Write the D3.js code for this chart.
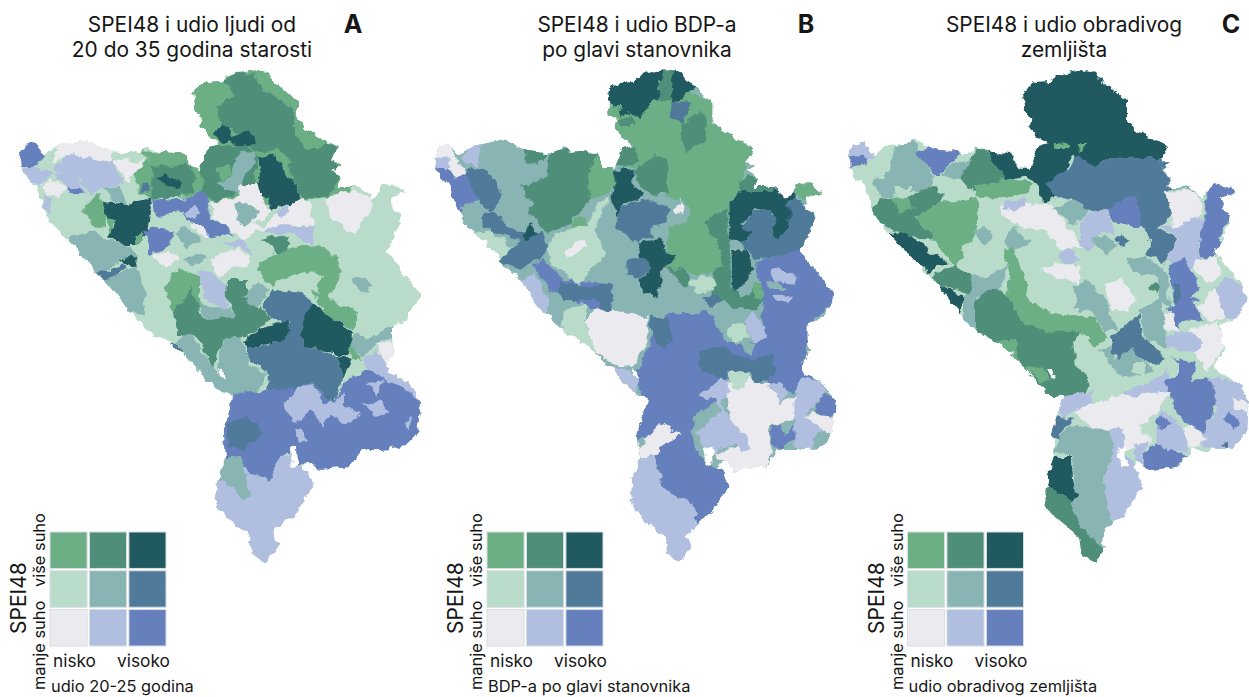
<!DOCTYPE html>
<html><head><meta charset="utf-8">
<script src="https://cdn.jsdelivr.net/npm/d3@7/dist/d3.min.js"></script>
<style>html,body{margin:0;background:#fff}svg{display:block}text{font-family:Inter,"Noto Sans",sans-serif;fill:#161616}</style>
</head><body><svg id="c" width="1249" height="697"></svg>
<script>
// bivariate classes: index = row*3+col, row 0 = manje suho, col 0 = nisko
const classColors=["#ebebef","#b0bfe0","#6580bd","#b8dcc9","#88b4b4","#4f7a9a","#6caf84","#4f8f79","#205a60"];
const titles=[["SPEI48 i udio ljudi od","20 do 35 godina starosti"],["SPEI48 i udio BDP-a","po glavi stanovnika"],["SPEI48 i udio obradivog","zemljišta"]];
const panelLetters=["A","B","C"];
const xLabels=["udio 20-25 godina","BDP-a po glavi stanovnika","udio obradivog zemljišta"];
const lowHigh=["nisko","visoko"];
const yLabels=["manje suho","više suho"];
const yTitle="SPEI48";
// map geometry in map units
const outline=[237,72,250,70,267,73,275,85,283,88,298,102,298,120,307,130,320,138,338,147,332,160,341,165,332,170,342,178,338,187,360,187,373,198,385,183,397,185,407,193,392,198,393,210,402,215,397,227,392,240,385,252,397,265,410,280,420,298,407,318,392,325,392,340,397,350,387,362,390,375,410,382,420,403,418,433,405,447,383,450,363,450,350,467,320,470,308,460,303,468,308,470,313,487,297,513,278,527,273,537,278,547,265,562,253,555,250,537,233,522,218,510,215,497,218,483,222,468,225,457,223,433,228,417,233,397,222,393,208,383,200,370,170,343,150,333,128,310,107,282,95,270,68,240,50,223,43,208,37,187,22,173,21,150,33,142,45,155,60,145,87,140,110,150,140,153,147,148,163,152,183,153,190,167,200,170,207,148,220,145,210,138,200,127,203,118,195,113,192,92,205,83,220,82,227,75];
const lakes=[[290,448,297,447,298,465,292,467],[218,368,223,370,225,379,220,375]];
const baseClass=[3,4,3];
const regionsA=[
[6,185,60,290,60,360,150,350,195,300,200,240,205,205,200,185,170,190,100],
[7,223,80,235,72,255,73,262,90,275,97,295,110,295,135,310,150,335,150,338,180,330,195,322,195,300,180,290,160,280,150,255,152,235,130,220,125,218,105,235,95],
[7,288,165,300,158,317,160,327,167,332,183,327,197,303,197,293,183],
[7,315,153,325,142,338,148,330,163,318,163],
[8,212,135,220,125,230,127,232,137,250,130,258,145,240,147,230,140,223,143],
[7,200,170,207,148,223,145,247,145,257,158,253,183,255,190,240,183,233,195,217,202,197,190],
[6,217,168,230,165,232,175,222,180],
[4,240,153,255,152,250,170,243,180,237,195,217,183,230,177],
[8,258,158,273,153,283,167,292,183,300,193,297,207,280,205,272,213,268,198,255,190,262,173],
[6,133,173,142,150,160,152,183,153,190,167,197,170,203,183,197,197,177,198,150,198,140,193],
[7,153,167,187,165,197,177,195,193,177,198,152,197,150,183],
[8,155,177,163,175,180,180,178,188,167,187],
[5,140,185,148,182,150,192,143,194],
[2,15,147,35,138,45,155,37,167,20,167],
[0,53,163,60,140,87,135,113,147,113,162,87,160,67,155],
[3,110,145,133,148,150,158,137,170,123,162],
[0,113,163,123,158,137,162,147,158,137,172,127,182],
[1,63,158,73,153,93,160,113,163,123,183,103,187,90,195,82,180,70,172,53,170],
[1,15,172,30,167,53,172,40,185,33,183,15,177],
[0,40,185,52,178,65,188,60,198,47,195],
[1,43,195,52,198,50,212,42,210],
[1,53,172,72,170,82,183,87,197,65,187],
[2,65,187,80,187,83,195,70,193],
[6,82,210,97,193,103,203,105,227,97,228],
[4,103,187,120,185,127,205,112,202],
[8,102,203,127,205,152,198,150,222,140,245,123,245,108,235,117,223,105,217],
[6,105,217,117,220,110,233],
[6,132,235,142,232,143,242,137,245],
[4,68,237,90,232,110,240,132,247,135,257,120,260,110,270,90,272],
[5,90,270,110,272,122,263,127,267,113,278,103,282],
[8,118,260,135,257,137,268,125,263],
[4,105,280,133,267,143,277,145,315,122,312],
[2,153,198,173,200,195,197,202,190,210,203,207,217,227,227,233,233,213,238,190,223,183,210,173,213,157,218],
[1,185,213,195,205,200,213,193,220],
[3,157,218,173,213,177,225,167,232,158,227],
[2,143,230,157,227,170,233,175,230,173,237,160,252,148,255,148,243],
[4,175,233,183,227,197,233,202,242,187,248],
[0,153,255,170,252,180,260,163,267],
[0,190,225,200,225,213,238,200,233],
[4,183,257,197,253,207,258,193,267],
[1,223,243,243,238,253,255,240,247],
[0,210,260,237,247,250,257,247,267,227,270,217,277],
[0,213,203,237,197,240,185,257,185,267,207,272,213,253,223,263,227,280,213,290,208,303,197,310,203,315,227,287,223,260,230,245,240,237,233,225,227,212,217],
[4,233,203,243,200,260,212,247,227,237,220],
[1,280,207,290,208,283,218,278,217],
[1,260,230,287,223,315,228,312,245,293,235,270,233],
[0,327,198,350,190,373,198,372,210,353,235,330,217],
[4,352,278,360,275,373,287,360,292],
[7,262,240,280,235,292,243,282,255],
[6,255,270,267,257,293,247,317,245,337,257,342,273,328,297,323,303,310,273,283,277,273,287],
[3,277,282,310,272,322,277,315,292,297,293],
[6,310,290,357,312,353,330,330,317],
[6,165,287,180,267,200,277,200,310,173,313],
[1,197,270,210,273,228,287,227,310,207,300],
[4,198,305,230,308,235,317,207,320],
[7,173,313,193,287,198,310,207,320,235,317,225,293,228,280,247,280,247,300,272,318,247,337,222,340,213,368,197,337,177,337],
[4,243,297,257,282,270,290,257,308],
[4,170,343,190,335,217,373,222,340,240,337,250,365,267,373,257,393,222,395,208,383],
[5,170,343,178,343,183,355,177,355],
[5,260,308,273,290,303,293,313,303,302,323,303,347,337,355,343,380,332,403,313,383,297,387,285,393,267,395,268,373,247,357,247,348,277,340,290,323,275,320],
[8,243,342,260,328,287,320,290,330,282,342,267,342,247,348],
[8,302,323,313,302,323,310,353,333,352,350,345,355,303,347],
[8,337,355,353,358,343,380],
[6,347,348,353,345,362,360,353,358],
[4,355,333,370,338,392,325,395,337,377,343,363,358,352,347],
[0,378,343,390,342,400,350,387,362,380,355],
[2,225,420,233,392,283,390,313,383,332,403,347,380,367,370,383,377,407,387,425,407,425,433,405,450,363,452,350,470,320,473,307,460,298,467,290,453,278,457,270,482,245,470,225,457,220,433],
[1,363,360,377,350,392,370,412,382,425,407,403,387,380,377,367,370],
[5,228,423,247,417,263,433,243,450,228,447],
[1,278,457,290,455,300,467,330,480,320,520,285,580,240,580,200,520,205,480,222,465,245,470,270,482],
[4,215,480,222,457,242,457,243,470,250,497,243,498,233,487],
[1,283,405,298,387,313,385,323,403,333,403,345,393,345,407,362,412,348,425,330,415,322,427,310,410,297,423,287,415],
[1,363,403,380,400,388,412,377,417],
[1,367,383,383,380,377,395],
[1,295,430,303,428,308,440,298,443],
[1,405,422,412,418,408,430]
];
const regionsB=[
[6,197,107,243,100,270,90,298,102,298,123,345,147,330,170,327,185,315,203,312,243,317,257,303,270,283,277,270,270,252,267,253,230,267,200,250,197,250,177,223,167,197,167,203,147,220,143,200,133],
[8,185,92,205,78,220,78,237,65,248,65,243,100,232,107,225,118,213,112,207,117,197,105],
[7,248,65,257,65,260,100,243,102],
[8,257,65,270,65,280,87,267,100,258,103],
[5,258,103,277,102,268,122,257,120],
[7,267,123,287,110,293,125,290,140,273,152,267,140],
[7,203,120,217,115,220,127,207,127],
[6,190,108,205,107,207,120,192,120],
[7,200,148,223,145,223,160,210,167,200,165],
[7,217,170,243,155,253,160,253,193,237,197,227,187],
[8,197,173,210,168,217,170,218,183,228,193,228,198,210,203,203,215,197,203,200,188],
[5,205,210,217,202,240,200,257,210,250,225,237,228,237,237,220,242,200,227],
[4,252,217,267,200,278,213,267,227,253,225],
[0,260,210,267,200,270,213],
[8,223,243,248,238,253,253,263,257,248,270,243,297,230,293,223,280,237,268,227,257],
[5,210,260,227,257,237,268,223,278,213,273],
[7,252,267,270,270,277,283,270,287,257,273],
[7,287,223,312,210,315,247,317,287,327,297,353,280,358,290,343,310,297,303,300,273,307,263,303,237],
[6,340,283,357,283,347,300,338,297],
[3,275,282,297,275,302,287,290,293,280,290],
[8,315,203,323,190,360,188,373,198,380,190,375,227,363,240,357,228,360,213,340,208,327,223,338,233,327,243,315,240],
[8,317,250,332,250,340,270,330,283,318,292],
[6,378,190,387,178,397,180,412,193,392,200,382,198],
[7,327,180,333,177,363,183,357,192,325,192],
[5,327,227,338,210,357,210,362,220,357,228,363,240,375,227,375,200,387,200,405,215,395,240,385,252,340,260,327,243,338,233],
[2,220,380,237,337,250,313,283,313,293,310,313,343,343,343,350,300,340,262,385,250,400,270,425,295,395,325,393,350,387,363,400,380,377,393,357,383,333,373,310,380,307,400,283,413,277,430,260,433,245,430,230,440,222,420,230,400],
[2,240,453,260,433,277,430,280,447,293,465,307,468,318,487,297,513,288,532,282,520,278,503,263,497,247,487],
[1,225,457,240,457,247,487,263,497,278,503,282,520,290,530,278,535,285,570,240,570,210,520,205,480],
[0,220,457,230,440,247,423,265,435,247,447,240,457],
[2,215,437,225,423,232,427,232,440],
[1,198,367,215,370,225,377,220,395,205,383],
[0,170,320,183,307,233,318,233,340,218,368,200,365,182,352],
[3,150,310,170,303,170,323,183,353,170,350,145,333],
[1,103,280,120,273,135,300,132,315,118,307],
[3,60,233,78,230,97,250,85,262],
[4,43,202,63,200,70,213,70,233,60,233,43,217],
[2,15,173,30,165,42,178,53,172,60,190,65,200,48,205,45,212,33,190],
[5,52,168,73,170,88,195,77,212,63,198,55,183],
[5,68,213,78,212,97,230,127,233,133,247,125,260,103,270,85,260,95,250,107,240,83,233,68,225],
[2,120,267,128,258,150,280,197,283,197,310,173,307,147,292,137,293],
[5,145,282,167,287,197,283,197,313,187,310,183,300,150,300,143,290],
[0,15,145,33,138,43,160,52,173,42,180,35,170,15,155],
[1,15,155,35,158,37,168,18,168],
[1,47,160,60,140,67,140,63,167],
[7,110,150,133,150,123,165,113,163],
[7,105,187,132,177,133,150,183,150,197,167,193,193,177,198,158,220,143,230,130,233,113,208,118,203],
[6,177,160,187,150,197,170,203,183,195,193,177,200,173,183],
[6,157,220,168,217,173,228,162,232],
[8,107,235,117,225,123,233,113,240],
[3,132,247,143,233,160,227,173,227,183,202,195,198,180,227,192,257,177,267,165,287,150,273,137,263],
[0,147,253,170,238,173,247,153,257],
[5,290,297,303,292,308,303,297,310],
[4,350,283,363,280,372,290,357,290],
[1,357,270,363,267,382,277,380,283,360,280],
[1,358,293,378,297,375,303,360,300],
[4,297,308,310,300,332,320,313,328,317,343,310,340],
[1,332,320,340,310,352,337,342,345,333,330],
[3,313,327,330,323,335,337,317,343],
[4,327,342,342,345,338,355,328,350],
[5,283,350,307,347,337,360,357,353,360,377,343,383,333,373,313,370,310,380,287,370],
[5,235,317,253,317,258,337,248,348,238,337],
[0,310,383,333,375,343,383,355,383,367,403,383,393,390,395,380,420,365,423,353,425,358,450,350,467,327,472,315,472,305,460,300,453,330,443,315,417],
[3,313,373,318,370,335,373,327,390,317,387],
[1,353,385,367,383,372,395,367,403],
[2,355,427,365,423,370,435,382,423,382,433,370,450,360,447],
[1,380,395,387,377,412,383,413,393,400,403,393,412,407,430,395,450,380,448,380,420],
[2,400,405,413,393,425,407,415,420,400,412],
[0,392,417,398,412,425,420,425,437,407,430],
[1,285,397,307,377,317,393,307,400,310,413,330,435,338,448,328,452,322,443,303,450,297,457,282,433,307,410,300,400,287,398]
];
const regionsC=[
[8,185,92,206,78,238,65,268,65,305,102,305,122,345,147,333,158,278,158,264,168,244,155,229,183,228,198,213,202,208,183,196,177,181,180,174,177,156,148,178,148,191,170,201,170,204,147,218,145,201,133,193,113],
[6,224,142,241,143,241,148,228,148],
[6,248,143,256,143,254,150,248,149],
[5,218,183,241,167,248,153,264,168,278,158,331,158,345,165,333,168,345,178,339,200,343,213,331,227,313,227,304,220,291,210,278,213,268,213,258,210,244,200,228,197],
[2,278,210,298,198,308,197,313,227,298,227,284,220],
[5,313,227,328,227,349,240,334,263,316,255,323,243],
[4,338,183,364,185,363,192,339,188],
[0,336,192,361,190,374,202,373,212,358,227,341,227,343,213],
[2,379,185,389,178,410,193,393,198,405,213,393,230,386,257,369,255,374,227,378,203],
[1,328,225,348,227,366,217,376,220,368,253,373,257,359,273,336,257,351,240],
[1,15,145,34,138,44,157,18,170],
[2,15,157,34,155,39,165,20,168],
[4,64,147,86,138,88,153,104,173,101,187,81,193,54,198,43,185,61,170],
[3,63,187,83,187,83,195,66,195],
[2,86,153,104,145,133,153,111,173,106,173],
[4,113,173,124,163,148,158,134,177,128,180],
[3,103,177,128,180,144,197,131,203,118,187],
[7,131,177,148,148,156,150,178,180,158,187,144,193],
[6,144,187,178,178,204,183,198,193,174,197,148,198],
[7,51,198,74,200,98,187,118,193,111,203,84,217,101,233,118,257,108,240,81,237,64,230,40,217],
[6,84,217,111,203,148,198,148,227,141,247,126,267,118,257,101,233],
[6,61,197,78,198,86,207,71,213],
[8,60,233,76,232,94,247,118,262,101,272,84,260],
[7,100,277,124,265,144,277,143,297,124,287,111,287],
[8,108,287,124,288,136,300,131,312,126,307],
[3,131,247,151,237,178,257,168,273,148,273],
[4,143,230,159,227,164,240,154,245],
[4,144,277,168,273,178,260,176,277,166,300,144,297],
[0,171,207,208,203,224,203,238,227,254,247,231,250,214,230,191,227,174,217],
[1,174,202,196,198,196,207,176,210],
[4,174,240,184,227,201,240,188,250,178,247],
[4,224,207,244,200,261,210,244,227],
[1,251,223,258,213,278,210,288,233,271,233,259,253,251,243],
[4,263,240,278,235,288,245,278,255],
[5,286,238,293,232,301,242,293,248],
[1,228,257,239,247,251,260,241,265],
[0,211,270,228,263,251,267,251,283,224,277],
[6,174,250,184,247,198,283,201,310,174,310,181,277],
[4,244,290,256,278,274,297,281,310,248,310],
[0,274,287,293,277,308,300,298,310,284,310],
[4,298,257,318,257,339,273,341,310,331,300,328,277,304,273],
[7,319,290,326,280,330,283,329,293],
[7,146,330,146,300,166,287,179,297,189,317,213,330,233,330,256,327,243,343,246,365,266,370,259,387,253,398,213,395,196,367,169,347],
[4,135,297,146,290,146,330,135,318],
[6,179,280,199,280,199,300,219,310,266,317,279,337,266,347,253,330,216,333,189,317,179,297],
[6,168,340,186,340,189,363,179,360],
[6,196,365,213,367,221,380,211,383],
[3,198,287,223,280,246,287,246,315,219,310,199,300],
[4,244,287,259,280,279,310,289,330,276,330,263,313],
[3,246,347,261,343,276,360,266,370,268,395,249,367],
[3,266,370,309,380,296,397,268,395],
[4,269,350,283,345,286,360,303,350,326,370,303,377,286,370],
[3,303,362,316,362,313,375,303,372],
[4,309,310,333,297,338,347,319,340],
[5,283,337,309,315,316,337,336,357,329,367,316,360,301,350,291,360,283,352],
[2,339,263,354,260,373,287,361,297,371,300,354,310,344,303],
[1,294,393,326,380,339,370,346,393,329,403,303,397],
[2,338,310,359,297,376,322,353,320,349,330,343,310],
[5,344,283,352,285,350,303,344,303],
[0,333,313,346,313,349,333,336,328],
[0,366,260,386,257,394,273,381,283,364,270],
[1,384,287,401,278,425,297,408,318,394,318],
[0,368,307,386,287,396,318,379,322],
[0,359,330,389,322,396,347,379,370,363,353],
[1,336,335,359,330,376,343,366,353,353,352,339,347],
[2,336,380,349,375,349,360,339,357,366,363,363,380,381,378,388,400,374,433,359,427,343,403],
[1,379,377,412,382,425,407,422,435,399,450,378,447,359,437,373,433,388,407],
[0,404,398,425,407,425,417,406,408],
[2,393,420,401,412,411,423,406,428],
[5,393,443,399,442,398,448],
[0,244,413,259,405,293,395,343,393,329,412,309,427,323,440,313,450,296,450,283,430,263,428],
[1,228,397,266,390,263,403,244,413,231,417],
[5,226,415,246,420,234,428,231,440,218,435],
[4,224,450,239,425,263,428,281,430,286,453,273,480,284,527,273,537,280,550,249,527,243,500,246,480,244,457],
[1,281,430,294,428,294,450,304,463,318,470,312,493,293,520,284,528,273,480,286,453],
[1,303,447,319,440,316,453,319,470,306,460],
[2,314,453,329,442,359,457,343,470,319,472],
[1,326,427,333,407,356,430,359,452,339,450,328,440],
[2,326,423,333,413,341,425,333,432],
[0,354,430,363,427,379,440,364,450,358,443],
[8,224,457,243,457,244,480,248,493,243,502,218,485,220,470],
[7,200,480,218,485,243,502,251,527,276,548,272,557,265,575,250,557,249,537,226,517,200,505]
];
const allRegions=[regionsA,regionsB,regionsC];
const mapOffsets=[0,414.5,829];
const legendOffsets=[0,437,857.5];
const legendCols=[0,1,2],legendRows=[2,1,0];

const svg=d3.select("#c");
const defs=svg.append("defs");
const f=defs.append("filter").attr("id","rough").attr("filterUnits","userSpaceOnUse").attr("x",0).attr("y",0).attr("width",1249).attr("height",697).attr("color-interpolation-filters","sRGB");
f.append("feTurbulence").attr("type","fractalNoise").attr("baseFrequency",0.1).attr("numOctaves",3).attr("seed",4).attr("result","n");
f.append("feDisplacementMap").attr("in","SourceGraphic").attr("in2","n").attr("scale",9).attr("xChannelSelector","R").attr("yChannelSelector","G").attr("result","d");
f.append("feGaussianBlur").attr("in","d").attr("stdDeviation",0.7);
const pairs=a=>d3.range(0,a.length,2).map(i=>[a[i],a[i+1]]);
allRegions.forEach((regions,p)=>{
  const x=d3.scaleLinear().domain([0,420]).range([mapOffsets[p],mapOffsets[p]+420]);
  const y=d3.scaleLinear().domain([0,697]).range([0,697]);
  const line=d3.line().x(d=>x(d[0])).y(d=>y(d[1])).curve(d3.curveLinearClosed);
  defs.append("clipPath").attr("id","clip"+p).append("path").attr("d",line(pairs(outline)));
  const g=svg.append("g").attr("filter","url(#rough)").append("g").attr("clip-path",`url(#clip${p})`);
  g.append("path").attr("d",line(pairs(outline))).attr("fill",classColors[baseClass[p]]);
  g.selectAll("path.r").data(regions).join("path").attr("class","r")
    .attr("d",d=>line(pairs(d.slice(1)))).attr("fill",d=>classColors[d[0]]);
  g.selectAll("path.l").data(lakes).join("path").attr("class","l").attr("d",d=>line(pairs(d))).attr("fill","#fff");

  // title
  const cx=[192,637,1064][p];
  titles[p].forEach((t,i)=>svg.append("text").attr("x",cx).attr("y",32+i*24.5).attr("text-anchor","middle").attr("font-size",20.9).text(t));
  svg.append("text").attr("x",[353,806,1231][p]).attr("y",33).attr("text-anchor","middle").attr("font-size",25).attr("font-weight",700).text(panelLetters[p]);

  // legend
  const lo=legendOffsets[p];
  const lx=d3.scaleBand().domain(legendCols).range([50+lo,166+lo]).paddingInner(0.06).paddingOuter(0);
  const ly=d3.scaleBand().domain(legendRows).range([532,646]).paddingInner(0.06).paddingOuter(0);
  const lg=svg.append("g");
  legendRows.forEach(r=>legendCols.forEach(c=>{
    lg.append("rect").attr("x",lx(c)).attr("y",ly(r)).attr("width",lx.bandwidth()).attr("height",ly.bandwidth())
      .attr("fill",classColors[r*3+c]).attr("stroke","#d8dde0").attr("stroke-width",1);
  }));
  lg.append("text").attr("x",53+lo).attr("y",667).attr("font-size",17.3).text(lowHigh[0]);
  lg.append("text").attr("x",117+lo).attr("y",667).attr("font-size",17.3).text(lowHigh[1]);
  lg.append("text").attr("x",51+lo).attr("y",692).attr("font-size",16.4).text(xLabels[p]);
  lg.append("text").attr("transform",`translate(${45+lo},690) rotate(-90)`).attr("font-size",16.4).text(yLabels[0]);
  lg.append("text").attr("transform",`translate(${45+lo},587) rotate(-90)`).attr("font-size",16.4).text(yLabels[1]);
  lg.append("text").attr("transform",`translate(${26+lo},634) rotate(-90)`).attr("font-size",21).text(yTitle);
});
</script></body></html>
